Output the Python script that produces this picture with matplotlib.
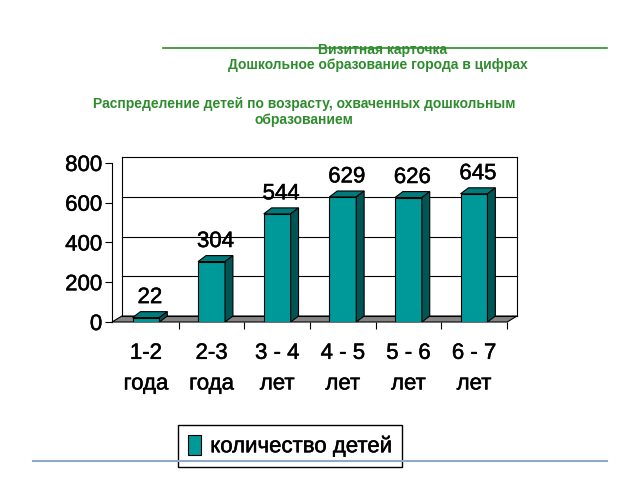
import matplotlib
matplotlib.use("Agg")
import matplotlib.pyplot as plt
import matplotlib.patheffects as pe
from matplotlib.patches import Polygon, Patch
from matplotlib.lines import Line2D

plt.rcParams['font.family'] = ['Liberation Sans', 'DejaVu Sans']

# data
ages = ["1-2", "2-3", "3 - 4", "4 - 5", "5 - 6", "6 - 7"]
units = ["года", "года", "лет", "лет", "лет", "лет"]
counts = [22, 304, 544, 629, 626, 645]
yticks = [0, 200, 400, 600, 800]
series_name = "количество детей"

green = "#2e8b2e"
face = "#009999"
side = "#005555"
top = "#007a7a"
thick = [pe.withStroke(linewidth=0.35, foreground='black')]

fig = plt.figure(figsize=(6.4, 4.8), dpi=100)

# headings
fig.text(383/640, 1-50/480, "Визитная карточка", ha='center', va='center',
         color=green, fontsize=10, fontweight='bold')
fig.text(378/640, 1-65/480, "Дошкольное образование города в цифрах", ha='center', va='center',
         color=green, fontsize=10, fontweight='bold')
fig.text(304/640, 1-112/480, "Распределение детей по возрасту, охваченных дошкольным\nобразованием",
         ha='center', va='center', color=green, fontsize=10, fontweight='bold', linespacing=1.25)
fig.add_artist(Line2D([163/640, 607/640], [1-47.5/480]*2, color=green, lw=1.2))

# chart: front plane in data coords, depth shown by (dx, dy) offsets
x0, x1 = -0.518, 5.655
ymax = 830
ax = fig.add_axes([112/640, 158/480, (517-112)/640, 165/480])
ax.set_xlim(x0, x1)
ax.set_ylim(0, ymax)
wdx, bdx, dy = 0.15, 0.12, 30
w = 0.41

# floor
ax.add_patch(Polygon([(x0, 0), (x1-wdx, 0), (x1, dy), (x0+wdx, dy)], closed=True,
                     facecolor='#858585', edgecolor='black', lw=0.8, zorder=1, clip_on=False))
# back wall border and gridlines
for v in yticks:
    ax.plot([x0+wdx, x1], [v+dy, v+dy], color='black', lw=0.8, zorder=1.5, clip_on=False)
ax.plot([x0+wdx, x0+wdx], [dy, 800+dy], color='black', lw=0.8, zorder=1.5, clip_on=False)
ax.plot([x1, x1], [dy, 800+dy], color='black', lw=0.8, zorder=1.5, clip_on=False)

# bars
xs = list(range(len(counts)))
ax.bar(xs, counts, width=w, color=face, edgecolor='black', lw=0.8, zorder=3)
for i, v in zip(xs, counts):
    l, r = i - w/2, i + w/2
    ax.add_patch(Polygon([(l, v), (r, v), (r+bdx, v+dy), (l+bdx, v+dy)], closed=True,
                         facecolor=top, edgecolor='black', lw=0.8, zorder=3))
    ax.add_patch(Polygon([(r, 0), (r+bdx, dy), (r+bdx, v+dy), (r, v)], closed=True,
                         facecolor=side, edgecolor='black', lw=0.8, zorder=3))
    ax.text(i + bdx/2, v + dy + 18, str(v), ha='center', va='bottom', fontsize=16,
            zorder=4, clip_on=False, path_effects=thick)

for s in ['top', 'right', 'bottom']:
    ax.spines[s].set_visible(False)
ax.spines['left'].set_bounds(0, 800)
ax.spines['left'].set_linewidth(0.8)
ax.set_yticks(yticks)
ax.set_yticklabels([str(t) for t in yticks], fontsize=16)
ax.tick_params(axis='y', length=5, width=0.8, pad=2)
ax.set_xticks(xs)
ax.set_xticklabels([a + "\n" + u for a, u in zip(ages, units)], fontsize=16, linespacing=1.6)
ax.set_xticks([i + 0.5 for i in xs], minor=True)
ax.tick_params(axis='x', which='major', length=0, pad=15)
ax.tick_params(axis='x', which='minor', length=5, width=0.8, color='black')
for t in ax.get_xticklabels() + ax.get_yticklabels():
    t.set_path_effects(thick)
ax.patch.set_visible(False)

# legend
leg = fig.legend(handles=[Patch(facecolor=face, edgecolor='black', lw=0.8)], labels=[series_name],
                 loc='center', bbox_to_anchor=(290/640, 1-446/480), fontsize=16, frameon=True,
                 fancybox=False, edgecolor='black', framealpha=1, handlelength=0.6, handleheight=1.0,
                 handletextpad=0.4, borderpad=0.45)
for t in leg.get_texts():
    t.set_path_effects(thick)

fig.add_artist(Line2D([33/640, 607/640], [1-461/480]*2, color='#8fa8cc', lw=1.5, zorder=10))

fig.savefig("out.png", dpi=100)
